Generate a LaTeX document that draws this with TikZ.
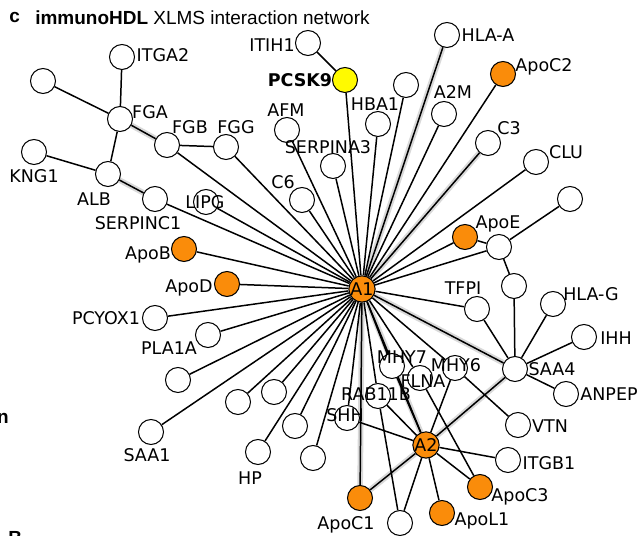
\documentclass[tikz,border=0pt]{standalone}
\usepackage{fontspec}
\setmainfont{DejaVu Sans}
\newfontfamily\headfont{Liberation Sans}

\definecolor{apoorange}{RGB}{250,140,10}
\definecolor{pcskyellow}{RGB}{255,250,0}

\pgfdeclarelayer{bg}
\pgfdeclarelayer{fg}
\pgfsetlayers{bg,main,fg}

\tikzset{
  prot/.style={circle, draw=black, line width=0.6pt, fill=white, minimum size=0.5cm, inner sep=0pt},
  apo/.style={prot, fill=apoorange},
  lbl/.style={inner sep=0pt, font=\fontsize{9.96}{11}\selectfont, text height=7.2pt, text depth=0pt},
  edge/.style={line width=0.85pt},
  glow/.style={line width=3.2pt, black!15},
  head/.style={inner sep=0pt, font=\headfont\fontsize{10.8}{12}\selectfont},
}

\begin{document}
\begin{tikzpicture}[x=0.02cm, y=-0.02cm]
        \useasboundingbox (0,0) rectangle (640,536);
        % heading and cut-off letters of the next panels
        \node[head, anchor=base west] (tag) at (9,23) {\bfseries c};
        \node[head, anchor=west] (title) at (35,18) {\textbf{immunoHDL} XLMS interaction network};
        \node[head, anchor=east] (cutn) at (9,418) {\bfseries n};
        \node[head, anchor=north west] (cutb) at (8,531) {\bfseries B};

        % proteins without a label
        \foreach \n/\x/\y in {tl/43/81, n406/406/85, n570/570/199, n499/499/247, n514/514/286,
            nbot/400/523, n178/178/380, n238/238/402, n274/274/392, n295/295/426, n313/313/458}
            \node[prot] (\n) at (\x,\y) {};

        % labelled proteins: name/x/y/label x/label y/text
        \foreach \n/\x/\y/\lx/\ly/\txt in {itga2/122/57/163/55/ITGA2, fga/120/119/150/112/FGA,
            fgb/167/145/190/127/FGB, fgg/226/147/236/127/FGG, kng1/34/152/34/176/KNG1,
            alb/108/174/94/199/ALB, serpinc1/155/199/138/223/SERPINC1, lipg/206/202/205/202/LIPG,
            afm/287/130/286/110/AFM, c6/302/200/283/182/C6, serpina3/333/166/328/147/SERPINA3,
            itih1/308/43/272/45/ITIH1, hba1/378/124/375/104/HBA1, a2m/444/114/453/92/A2M,
            hlaa/447/35/488/35/HLA-A, c3/488/143/509/128/C3, clu/536/162/566/152/CLU,
            tfpi/477/309/463/288/TFPI, hlag/553/304/591/294/HLA-G, ihh/584/337/616/338/IHH,
            saa4/515/369/552/369/SAA4, anpep/566/394/609/394/ANPEP, vtn/518/425/550/426/VTN,
            mhy7/392/366/402/357/MHY7, flna/420/378/423/381/FLNA, mhy6/455/368/456/365/MHY6,
            rab11b/378/396/376/394/RAB11B, shh/347/418/345/415/SHH, itgb1/508/460/549/463/ITGB1,
            pcyox1/155/318/106/318/PCYOX1, pla1a/208/335/169/348/PLA1A, saa1/151/432/147/455/SAA1,
            hp/258/452/250/478/HP} {
            \node[prot] (\n) at (\x,\y) {};
            \begin{pgfonlayer}{fg}
                \node[lbl] (\n-l) at (\lx,\ly) {\txt};
            \end{pgfonlayer}
        }

        % apolipoproteins
        \foreach \n/\x/\y/\lx/\ly/\txt in {apob/184/249/148/253/ApoB, apod/227/284/189/286/ApoD,
            apoc2/503/74/544/65/ApoC2, apoe/465/237/498/222/ApoE, apoc3/480/487/520/495/ApoC3,
            apol1/442/513/482/519/ApoL1, apoc1/360/498/346/523/ApoC1} {
            \node[apo] (\n) at (\x,\y) {};
            \begin{pgfonlayer}{fg}
                \node[lbl] (\n-l) at (\lx,\ly) {\txt};
            \end{pgfonlayer}
        }
        \node[apo, lbl] (a1) at (362,289) {A1};
        \node[apo, lbl] (a2) at (426,445) {A2};
        \node[prot, fill=pcskyellow] (pcsk9) at (345,80) {};
        \node[lbl, font=\fontsize{9.96}{11}\selectfont\bfseries] (pcsk9-l) at (300,80) {PCSK9};

        \begin{pgfonlayer}{bg}
            \foreach \a/\b in {fga/fgb, alb/serpinc1, a1/hlaa, a1/c3, a1/saa4, saa4/a2, a2/apoc1, a1/apoc1, a1/a2}
                \draw[glow] (\a) -- (\b);
            \foreach \p in {apod, apob, serpinc1, lipg, fgb, fgg, c6, afm, serpina3, pcsk9, hba1, n406,
                a2m, hlaa, apoc2, c3, clu, apoe, n499, tfpi, saa4, mhy6, flna, mhy7, a2, rab11b, apoc1,
                shh, n313, n295, hp, n274, n238, saa1, n178, pla1a, pcyox1}
                \draw[edge] (a1) -- (\p);
            \foreach \a/\b in {tl/fga, itga2/fga, fga/alb, fga/fgb, fgb/fgg, kng1/alb, alb/serpinc1,
                itih1/pcsk9, n570/n499, apoe/n499, n499/n514, n514/saa4, tfpi/saa4, hlag/saa4,
                ihh/saa4, anpep/saa4, saa4/a2, mhy6/vtn, mhy6/a2, shh/a2, rab11b/a2, mhy7/a2,
                rab11b/nbot, flna/apoc3, a2/itgb1, a2/apoc3, a2/apol1, a2/nbot, a2/apoc1}
                \draw[edge] (\a) -- (\b);
        \end{pgfonlayer}
\end{tikzpicture}
\end{document}
